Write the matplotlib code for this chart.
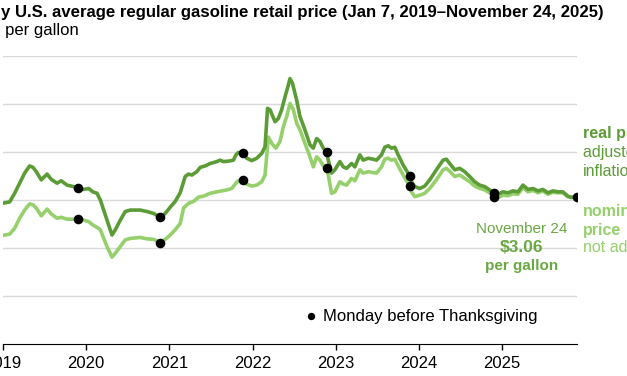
import matplotlib
matplotlib.use("Agg")
import matplotlib.pyplot as plt
import numpy as np

plt.rcParams["font.family"] = ["Liberation Sans", "DejaVu Sans"]

# decimal year, dollars per gallon
real_years = [
    2019.02, 2019.08, 2019.14, 2019.20, 2019.26, 2019.32, 2019.36, 2019.40, 2019.46, 2019.53,
    2019.58, 2019.65, 2019.70, 2019.77, 2019.90, 2019.97, 2020.03, 2020.08, 2020.13, 2020.17,
    2020.25, 2020.31, 2020.35, 2020.41, 2020.47, 2020.53, 2020.65, 2020.73, 2020.81, 2020.89,
    2020.95, 2021.01, 2021.07, 2021.13, 2021.19, 2021.23, 2021.27, 2021.33, 2021.37, 2021.43,
    2021.49, 2021.57, 2021.61, 2021.65, 2021.71, 2021.77, 2021.80, 2021.83, 2021.89, 2021.93,
    2021.99, 2022.05, 2022.11, 2022.15, 2022.18, 2022.21, 2022.27, 2022.31, 2022.35, 2022.39,
    2022.42, 2022.45, 2022.48, 2022.53, 2022.57, 2022.63, 2022.69, 2022.73, 2022.77, 2022.81,
    2022.85, 2022.89, 2022.91, 2022.95, 2022.99, 2023.05, 2023.09, 2023.13, 2023.19, 2023.23,
    2023.29, 2023.33, 2023.39, 2023.45, 2023.49, 2023.55, 2023.59, 2023.63, 2023.67, 2023.71,
    2023.75, 2023.81, 2023.89, 2023.91, 2023.95, 2024.01, 2024.07, 2024.13, 2024.21, 2024.29,
    2024.33, 2024.37, 2024.43, 2024.49, 2024.55, 2024.61, 2024.67, 2024.73, 2024.79, 2024.85,
    2024.90, 2024.95, 2025.01, 2025.07, 2025.13, 2025.19, 2025.25, 2025.31, 2025.37, 2025.43,
    2025.49, 2025.55, 2025.61, 2025.67, 2025.73, 2025.79, 2025.83, 2025.90,
]
real_price = [
    2.94, 2.96, 3.14, 3.35, 3.56, 3.71, 3.68, 3.59, 3.42, 3.54,
    3.43, 3.35, 3.40, 3.31, 3.26, 3.22, 3.24, 3.17, 3.14, 3.00,
    2.58, 2.27, 2.38, 2.58, 2.76, 2.79, 2.79, 2.76, 2.72, 2.64,
    2.72, 2.85, 2.97, 3.15, 3.49, 3.54, 3.52, 3.59, 3.68, 3.71,
    3.76, 3.80, 3.83, 3.80, 3.81, 3.83, 3.94, 3.99, 3.97, 3.87,
    3.82, 3.87, 3.97, 4.11, 4.91, 4.88, 4.63, 4.70, 4.88, 5.15,
    5.33, 5.53, 5.43, 5.08, 4.74, 4.46, 4.15, 4.08, 4.28, 4.22,
    4.08, 3.99, 3.83, 3.56, 3.63, 3.80, 3.69, 3.66, 3.76, 3.69,
    3.94, 3.83, 3.87, 3.85, 3.83, 3.94, 4.10, 4.13, 4.08, 4.10,
    3.94, 3.73, 3.50, 3.38, 3.28, 3.24, 3.29, 3.42, 3.63, 3.83,
    3.85, 3.76, 3.63, 3.66, 3.59, 3.49, 3.38, 3.31, 3.28, 3.21,
    3.15, 3.12, 3.17, 3.15, 3.19, 3.17, 3.31, 3.22, 3.24, 3.19,
    3.22, 3.15, 3.19, 3.17, 3.17, 3.08, 3.06, 3.06,
]

nominal_years = [
    2019.02, 2019.08, 2019.14, 2019.20, 2019.26, 2019.32, 2019.36, 2019.40, 2019.46, 2019.53,
    2019.58, 2019.65, 2019.70, 2019.77, 2019.90, 2019.97, 2020.03, 2020.08, 2020.13, 2020.17,
    2020.25, 2020.31, 2020.35, 2020.41, 2020.47, 2020.53, 2020.65, 2020.73, 2020.81, 2020.89,
    2020.95, 2021.01, 2021.07, 2021.13, 2021.17, 2021.23, 2021.29, 2021.35, 2021.41, 2021.49,
    2021.57, 2021.63, 2021.69, 2021.75, 2021.80, 2021.83, 2021.89, 2021.93, 2021.99, 2022.05,
    2022.11, 2022.15, 2022.19, 2022.23, 2022.28, 2022.33, 2022.37, 2022.41, 2022.45, 2022.49,
    2022.53, 2022.57, 2022.63, 2022.69, 2022.73, 2022.77, 2022.81, 2022.85, 2022.89, 2022.91,
    2022.95, 2022.99, 2023.05, 2023.09, 2023.13, 2023.19, 2023.23, 2023.29, 2023.33, 2023.39,
    2023.45, 2023.49, 2023.55, 2023.59, 2023.63, 2023.67, 2023.71, 2023.75, 2023.81, 2023.89,
    2023.91, 2023.95, 2024.01, 2024.07, 2024.13, 2024.21, 2024.29, 2024.33, 2024.37, 2024.43,
    2024.49, 2024.55, 2024.61, 2024.67, 2024.73, 2024.79, 2024.85, 2024.90, 2024.95, 2025.01,
    2025.07, 2025.13, 2025.19, 2025.25, 2025.31, 2025.37, 2025.43, 2025.49, 2025.55, 2025.61,
    2025.67, 2025.73, 2025.79, 2025.83, 2025.90,
]
nominal_price = [
    2.27, 2.29, 2.41, 2.62, 2.79, 2.92, 2.90, 2.83, 2.67, 2.81,
    2.71, 2.62, 2.64, 2.60, 2.60, 2.58, 2.55, 2.48, 2.43, 2.38,
    2.03, 1.81, 1.89, 2.03, 2.17, 2.20, 2.22, 2.19, 2.18, 2.11,
    2.18, 2.27, 2.38, 2.51, 2.83, 2.93, 2.97, 3.06, 3.08, 3.14,
    3.17, 3.19, 3.21, 3.24, 3.35, 3.40, 3.42, 3.33, 3.29, 3.31,
    3.38, 3.52, 4.31, 4.18, 4.08, 4.22, 4.53, 4.74, 5.01, 4.88,
    4.60, 4.46, 4.18, 3.90, 3.69, 3.90, 3.83, 3.71, 3.66, 3.52,
    3.14, 3.17, 3.38, 3.33, 3.31, 3.45, 3.40, 3.63, 3.56, 3.59,
    3.57, 3.56, 3.69, 3.85, 3.87, 3.83, 3.85, 3.71, 3.52, 3.29,
    3.17, 3.07, 3.10, 3.14, 3.24, 3.42, 3.63, 3.66, 3.60, 3.49,
    3.52, 3.45, 3.38, 3.29, 3.24, 3.21, 3.15, 3.06, 3.05, 3.10,
    3.09, 3.13, 3.12, 3.26, 3.17, 3.20, 3.15, 3.19, 3.12, 3.16,
    3.15, 3.15, 3.07, 3.05, 3.06,
]

# Mondays before Thanksgiving (decimal years)
thanksgiving = [2019.90, 2020.89, 2021.89, 2022.89, 2023.89, 2024.90]
latest = 2025.90
year_ticks = [2019, 2020, 2021, 2022, 2023, 2024, 2025]

dark = "#5c9c37"
light = "#95d06c"
label_green = "#6aa843"

W, H = 627, 376
fig = plt.figure(figsize=(W / 100, H / 100), dpi=100)
ax = fig.add_axes([3 / W, 32 / H, 574 / W, 288 / H])

ax.plot(nominal_years, nominal_price, color=light, lw=2.6, solid_joinstyle="round", zorder=3)
ax.plot(real_years, real_price, color=dark, lw=2.6, solid_joinstyle="round", zorder=4)

ax.scatter(thanksgiving, np.interp(thanksgiving, nominal_years, nominal_price),
           s=48, color="black", zorder=5, linewidths=0)
ax.scatter(thanksgiving, np.interp(thanksgiving, real_years, real_price),
           s=48, color="black", zorder=5, linewidths=0)
ax.scatter([latest], [np.interp(latest, nominal_years, nominal_price)],
           s=48, color="black", zorder=5, linewidths=0)

ax.set_xlim(2019.0, 2025.9)
ax.set_ylim(0, 6)
ax.set_yticks([1, 2, 3, 4, 5, 6])
ax.yaxis.grid(True, color="#d9d9d9", lw=1)
ax.tick_params(axis="y", left=False, labelleft=False)
ax.set_xticks(year_ticks)
ax.set_xticklabels([str(y) for y in year_ticks], fontsize=12)
ax.tick_params(axis="x", length=4, width=1, color="black", pad=4.5)
for s in ["top", "right", "left"]:
    ax.spines[s].set_visible(False)
ax.spines["bottom"].set_color("black")
ax.set_axisbelow(True)

# legend: black dot + label
leg_handle = ax.scatter([], [], s=28, color="black", linewidths=0)
ax.legend([leg_handle], ["Monday before Thanksgiving"], loc="center left",
          bbox_to_anchor=(0.522, 0.097), frameon=False, fontsize=12,
          handlelength=1.0, handletextpad=0.2, borderaxespad=0, borderpad=0)


def fx(x):
    return x / W


def fy(y):
    return 1 - y / H


fig.text(fx(604), fy(12), "Weekly U.S. average regular gasoline retail price (Jan 7, 2019\u2013November 24, 2025)",
         ha="right", va="center", fontsize=12.1, fontweight="bold")
fig.text(fx(79), fy(30), "dollars per gallon", ha="right", va="center", fontsize=12)

fig.text(fx(583), fy(133), "real price", ha="left", va="center", fontsize=11.5,
         fontweight="bold", color=dark)
fig.text(fx(583), fy(152), "adjusted for", ha="left", va="center", fontsize=11.5, color=dark)
fig.text(fx(583), fy(171), "inflation", ha="left", va="center", fontsize=11.5, color=dark)

fig.text(fx(583), fy(212), "nominal", ha="left", va="center", fontsize=11.5,
         fontweight="bold", color=light)
fig.text(fx(583), fy(230), "price", ha="left", va="center", fontsize=11.5,
         fontweight="bold", color=light)
fig.text(fx(583), fy(248), "not adjusted", ha="left", va="center", fontsize=11.5, color=light)

fig.text(fx(522), fy(229), "November 24", ha="center", va="center", fontsize=11, color=label_green)
fig.text(fx(522), fy(247), "$3.06", ha="center", va="center", fontsize=12.5,
         fontweight="bold", color=label_green)
fig.text(fx(522), fy(266), "per gallon", ha="center", va="center", fontsize=11,
         fontweight="bold", color=label_green)

fig.savefig("out.png", dpi=100)
